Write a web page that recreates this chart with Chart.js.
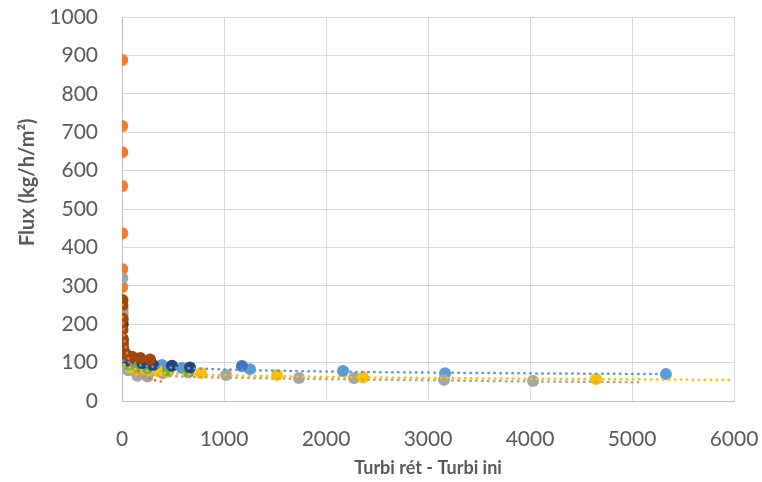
<!DOCTYPE html>
<html>
<head>
<meta charset="utf-8">
<script src="https://cdn.jsdelivr.net/npm/chart.js"></script>
<style>
  body { margin: 0; background: #fff; }
</style>
</head>
<body>
<canvas id="chart" width="762" height="482"></canvas>
<script>
// valeurs
var xTicks = [0, 1000, 2000, 3000, 4000, 5000, 6000];
var yTicks = [0, 100, 200, 300, 400, 500, 600, 700, 800, 900, 1000];

var blueX = [5, 8, 392, 588, 1255, 2167, 3167, 5333];
var blueY = [232, 211, 94, 86, 83, 78, 72, 70];

var orangeX = [3, 3, 3, 3, 3, 3, 3, 5, 8];
var orangeY = [888, 716, 648, 560, 437, 344, 297, 240, 200];

var grayX = [4, 6, 60, 150, 250, 400, 1020, 1735, 2275, 3157, 4030];
var grayY = [320, 224, 80, 66, 64, 72, 68, 60, 60, 55, 52];

var yellowX = [30, 80, 150, 250, 350, 450, 775, 1520, 2363, 4647];
var yellowY = [100, 88, 82, 80, 78, 76, 73, 68, 62, 57];

var blue2X = [10, 30, 100, 1176];
var blue2Y = [150, 125, 105, 91];

var greenX = [5, 20, 60, 150, 250, 450, 650];
var greenY = [115, 105, 95, 90, 85, 80, 75];

var navyX = [5, 8, 15, 60, 200, 304, 490, 667];
var navyY = [200, 160, 130, 105, 98, 94, 92, 87];

var brownX = [5, 5, 5, 5, 8, 10, 20, 50, 100, 180, 275];
var brownY = [263, 250, 215, 185, 160, 140, 125, 118, 115, 112, 108];

// courbes de tendance (pointillés)
var blueTrendX = [10, 200, 600, 1500, 3000, 5333];
var blueTrendY = [105, 92, 86, 79, 74, 70];
var orangeTrendX = [8, 15, 30, 80, 150, 250, 400];
var orangeTrendY = [250, 190, 150, 100, 75, 60, 50];
var grayTrendX = [20, 150, 500, 1000, 2000, 3000, 4000, 5060];
var grayTrendY = [90, 72, 65, 61, 57, 54, 51, 49];
var yellowTrendX = [20, 150, 500, 1000, 2000, 3000, 4650, 6000];
var yellowTrendY = [95, 82, 72, 67, 63, 60, 57, 55];

function pts(xs, ys) {
    var out = [];
    for (var i = 0; i < xs.length; i++) out.push({ x: xs[i], y: ys[i] });
    return out;
}

function serie(xs, ys, color) {
    return {
        type: 'scatter',
        data: pts(xs, ys),
        backgroundColor: color,
        borderColor: color,
        pointRadius: 6,
        pointBorderWidth: 0,
        showLine: false
    };
}

function trend(xs, ys, color) {
    return {
        type: 'line',
        data: pts(xs, ys),
        borderColor: color,
        borderWidth: 2.5,
        borderDash: [0.5, 5.5],
        borderCapStyle: 'round',
        pointRadius: 0,
        tension: 0.4,
        fill: false
    };
}

// ordre Excel : la dernière série est dessinée au-dessus
var series = [
    serie(blueX, blueY, '#5B9BD5'),
    serie(orangeX, orangeY, '#ED7D31'),
    serie(grayX, grayY, '#A5A5A5'),
    serie(yellowX, yellowY, '#FFC000'),
    serie(blue2X, blue2Y, '#4472C4'),
    serie(greenX, greenY, '#70AD47'),
    serie(navyX, navyY, '#264478'),
    serie(brownX, brownY, '#9E480E')
];
var trends = [
    trend(blueTrendX, blueTrendY, '#5B9BD5'),
    trend(orangeTrendX, orangeTrendY, '#ED7D31'),
    trend(grayTrendX, grayTrendY, '#A5A5A5'),
    trend(yellowTrendX, yellowTrendY, '#FFC000')
];
var datasets = trends.reverse().concat(series.reverse());

var tickFont = { family: 'Lato', size: 21 };
var titleFont = { family: 'Lato', size: 18, weight: 'bold' };
var yTitleFont = { family: 'Lato', size: 20, weight: 'bold' };

function plain(v) { return String(v); }

new Chart(document.getElementById('chart'), {
    type: 'scatter',
    data: { datasets: datasets },
    options: {
        responsive: false,
        animation: false,
        layout: { padding: { top: 17, right: 28, left: 0, bottom: 0 } },
        plugins: { legend: { display: false }, tooltip: { enabled: false } },
        scales: {
            x: {
                type: 'linear',
                min: 0,
                max: 6000,
                afterBuildTicks: function (axis) {
                    axis.ticks = xTicks.map(function (v) { return { value: v }; });
                },
                afterFit: function (axis) {
                    axis.height = 81;
                    axis.paddingLeft = 0;
                    axis.paddingRight = 0;
                },
                grid: { color: '#D9D9D9', drawTicks: false },
                border: { color: '#BFBFBF' },
                ticks: { color: '#595959', font: tickFont, padding: 26, maxRotation: 0, callback: plain },
                title: {
                    display: true,
                    text: 'Turbi rét - Turbi ini',
                    color: '#595959',
                    font: titleFont,
                    padding: { top: 0, bottom: 3 }
                }
            },
            y: {
                type: 'linear',
                min: 0,
                max: 1000,
                afterBuildTicks: function (axis) {
                    axis.ticks = yTicks.map(function (v) { return { value: v }; });
                },
                afterFit: function (axis) {
                    axis.width = 122;
                    axis.paddingTop = 0;
                    axis.paddingBottom = 0;
                },
                grid: { color: '#D9D9D9', drawTicks: false },
                border: { color: '#BFBFBF' },
                ticks: { color: '#595959', font: tickFont, padding: 24, callback: plain },
                title: {
                    display: true,
                    // espaces en tête : le titre est un peu au-dessus du centre
                    text: '\u00A0\u00A0\u00A0\u00A0\u00A0\u00A0\u00A0\u00A0\u00A0\u00A0\u00A0Flux (kg/h/m²)',
                    color: '#595959',
                    font: yTitleFont,
                    padding: { top: 16, bottom: 0 }
                }
            }
        }
    }
});
</script>
</body>
</html>
